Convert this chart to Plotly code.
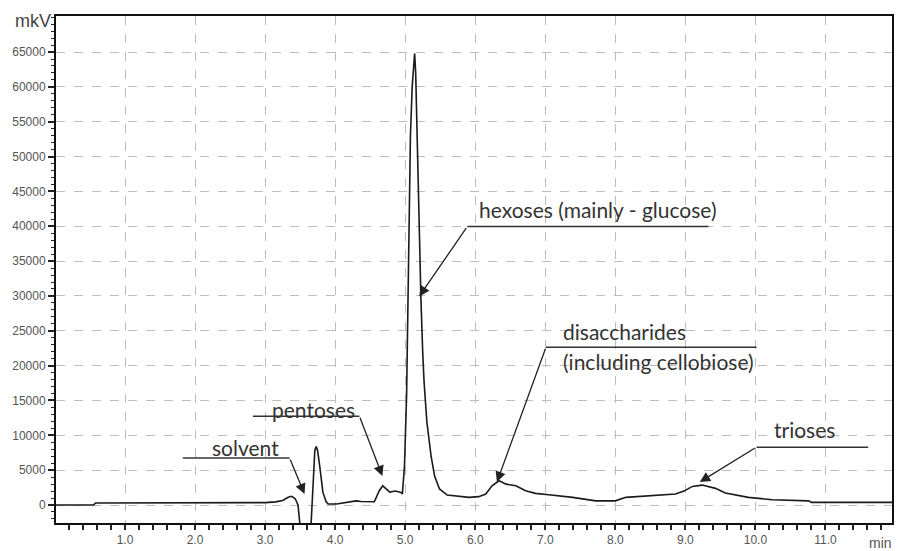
import plotly.graph_objects as go

# Chromatogram trace (retention time, min) / signal (mkV)
rt = [0.0, 0.55, 0.58, 1.5, 2.5, 3.0, 3.15, 3.25, 3.33, 3.38, 3.43, 3.47, 3.50, 3.53,
      3.64, 3.66, 3.69, 3.71, 3.73, 3.75, 3.78, 3.825, 3.87, 3.90, 4.02, 4.15, 4.30, 4.37,
      4.45, 4.56, 4.63, 4.68, 4.72, 4.78, 4.86, 4.94, 4.96, 4.99, 5.02, 5.045, 5.06, 5.075,
      5.10, 5.12, 5.135, 5.15, 5.165, 5.19, 5.205, 5.225, 5.25, 5.27, 5.31, 5.37, 5.42,
      5.49, 5.60, 5.75, 5.91, 6.05, 6.15, 6.24, 6.34, 6.44, 6.58, 6.72, 6.86, 7.05, 7.39,
      7.72, 8.0, 8.15, 8.57, 8.86, 8.98, 9.10, 9.24, 9.43, 9.57, 9.90, 10.24, 10.76, 10.80,
      11.95]
signal = [0, 0, 300, 300, 300, 350, 450, 650, 1100, 1250, 900, 0, -3000, -6000,
          -6000, -2000, 4000, 7800, 8400, 7800, 5600, 1850, 500, 140, 140, 350, 600, 500,
          450, 470, 2050, 2760, 2400, 1850, 2000, 1800, 1600, 5600, 15600, 30000, 42000, 53000,
          60000, 63000, 64800, 62000, 55000, 45000, 35000, 29500, 22000, 17600, 11900, 7000, 4150,
          2300, 1430, 1250, 1100, 1200, 1575, 2760, 3480, 3000, 2760, 2050, 1670, 1480, 1100,
          600, 600, 1100, 1430, 1575, 2000, 2670, 2860, 2390, 1720, 1100, 760, 600, 380,
          380]

# Axis tick values
y_ticks = [0, 5000, 10000, 15000, 20000, 25000, 30000, 35000, 40000, 45000, 50000,
           55000, 60000, 65000]
x_ticks = [1.0, 2.0, 3.0, 4.0, 5.0, 6.0, 7.0, 8.0, 9.0, 10.0, 11.0]

# Peak labels: text, text-left x, text y, leader start x, leader end x, leader y, arrow tip x, tip y
labels = ["solvent", "pentoses", "hexoses (mainly - glucose)", "disaccharides", "trioses"]
label_x = [2.21, 3.066, 6.03, 7.225, 10.23]
label_y = [8300, 13750, 42390, 24917, 10883]
leader_x0 = [1.826, 2.826, 5.886, 7.01, 10.016]
leader_x1 = [3.35, 4.347, 9.33, 10.016, 11.61]
leader_y = [6730, 12745, 39950, 22626, 8306]
leader_corner_x = [3.35, 4.347, 5.886, 7.01, 10.016]
tip_x = [3.563, 4.675, 5.20, 6.31, 9.205]
tip_y = [1575, 4150, 29930, 3294, 3294]
extra_text = "(including cellobiose)"
extra_x = 7.225
extra_y = 20620

fig = go.Figure()
fig.add_trace(go.Scatter(x=rt, y=signal, mode="lines",
                         line=dict(color="#1a1a1a", width=1.6), showlegend=False,
                         hoverinfo="skip"))

ann_font = dict(family="Lato, 'Open Sans', sans-serif", size=21, color="#333333")
for i, t in enumerate(labels):
    fig.add_shape(type="line", x0=leader_x0[i], x1=leader_x1[i], y0=leader_y[i], y1=leader_y[i],
                  xref="x", yref="y", line=dict(color="#333333", width=1.5))
    fig.add_annotation(x=tip_x[i], y=tip_y[i], ax=leader_corner_x[i], ay=leader_y[i],
                       xref="x", yref="y", axref="x", ayref="y", text="",
                       showarrow=True, arrowhead=2, arrowsize=1.6, arrowwidth=1.3,
                       arrowcolor="#222222", standoff=0)
    fig.add_annotation(x=label_x[i], y=label_y[i], xref="x", yref="y", text=t,
                       showarrow=False, xanchor="left", yanchor="middle", font=ann_font)
fig.add_annotation(x=extra_x, y=extra_y, xref="x", yref="y", text=extra_text,
                   showarrow=False, xanchor="left", yanchor="middle", font=ann_font)

tick_font = dict(family="Arial, 'Liberation Sans', sans-serif", size=12, color="#555555")
fig.add_annotation(x=0, y=1.0, xref="paper", yref="paper", xshift=-3, yshift=-5,
                   text="mkV", showarrow=False, xanchor="right", yanchor="middle",
                   font=dict(family="Arial, 'Liberation Sans', sans-serif", size=18, color="#444444"))
fig.add_annotation(x=1.0, y=0, xref="paper", yref="paper", yshift=-20, xshift=2,
                   text="min", showarrow=False, xanchor="right", yanchor="middle",
                   font=dict(family="Arial, 'Liberation Sans', sans-serif", size=14, color="#555555"))

fig.update_layout(
    width=898, height=551,
    margin=dict(l=56, r=4, t=16, b=27),
    paper_bgcolor="white", plot_bgcolor="white",
    showlegend=False,
)
fig.update_xaxes(range=[0.015, 11.95], tickmode="array", tickvals=x_ticks,
                 ticktext=[f"{v:.1f}" for v in x_ticks],
                 showline=True, linecolor="#111111", linewidth=2, mirror=True,
                 ticks="outside", ticklen=5, tickwidth=1.5, tickcolor="#222222",
                 minor=dict(dtick=0.2, tick0=0, ticks="outside", ticklen=5, tickwidth=1.5,
                            tickcolor="#222222", showgrid=False),
                 showgrid=True, gridcolor="#bdbdbd", griddash="dash", gridwidth=1,
                 zeroline=False, tickfont=tick_font)
fig.update_yaxes(range=[-2580, 70170], tickmode="array", tickvals=y_ticks,
                 ticktext=[str(v) for v in y_ticks],
                 showline=True, linecolor="#111111", linewidth=2, mirror=True,
                 ticks="outside", ticklen=6, tickwidth=1.5, tickcolor="#222222",
                 minor=dict(dtick=1000, tick0=0, ticks="outside", ticklen=3, tickwidth=1.2,
                            tickcolor="#222222", showgrid=False),
                 showgrid=True, gridcolor="#bdbdbd", griddash="dash", gridwidth=1,
                 zeroline=False, tickfont=tick_font)

fig.write_html("out.html")
